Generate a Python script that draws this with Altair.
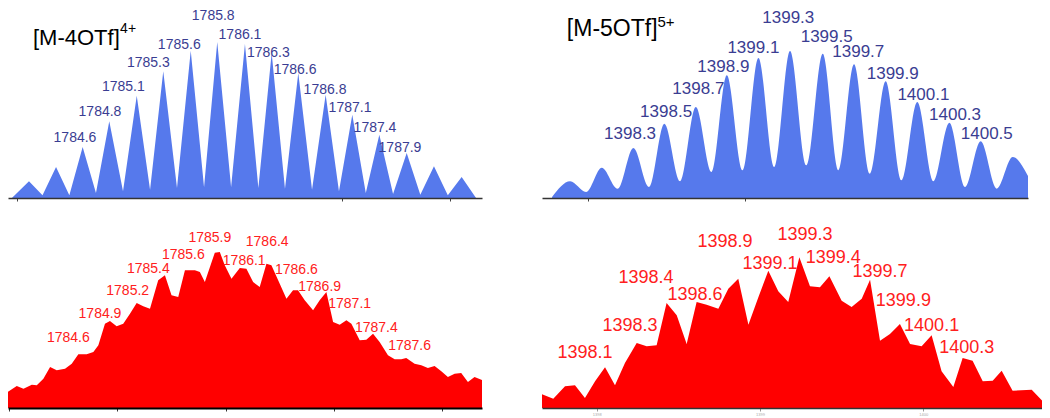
import altair as alt
import pandas as pd

FONT = "Liberation Sans"

# ---------------- top-left: calculated [M-4OTf]4+ ----------------
TL_MZ = [1783.95, 1784.108, 1784.233, 1784.358, 1784.481, 1784.604, 1784.727, 1784.85, 1784.977,
         1785.104, 1785.227, 1785.349, 1785.476, 1785.603, 1785.726, 1785.848, 1785.976, 1786.104,
         1786.228, 1786.351, 1786.474, 1786.597, 1786.724, 1786.85, 1786.973, 1787.096, 1787.221,
         1787.346, 1787.473, 1787.599, 1787.725, 1787.851, 1787.979, 1788.107, 1788.24]
TL_INT = [0, 16.7, 2.7, 31, 2.7, 51, 5, 76.7, 6.7, 102.3, 8.3, 126.7, 10, 147.3, 10.7, 156, 10.7,
          154, 10, 145, 9.3, 125, 8.3, 103.3, 6.7, 83.3, 5, 63.3, 4, 45, 3.3, 31.7, 2.7, 21, 0]
TL_LABELS = ["1784.6", "1784.8", "1785.1", "1785.3", "1785.6", "1785.8", "1786.1", "1786.3",
             "1786.6", "1786.8", "1787.1", "1787.4", "1787.9"]
TL_LAB_MZ = [1784.533, 1784.764, 1784.98, 1785.211, 1785.497, 1785.811, 1786.058, 1786.32,
             1786.567, 1786.844, 1787.075, 1787.306, 1787.537]
TL_LAB_INT = [60, 86, 110.7, 135, 152.7, 181.7, 163.4, 145, 128.4, 108.4, 90, 70, 50]
TL_TITLE = ["[M-4OTf]", "4+"]
TL_TITLE_MZ = [1784.145, 1784.95]
TL_TITLE_INT = [152.7, 164.7]

# ---------------- top-right: calculated [M-5OTf]5+ ----------------
TR_MZ = [1397.773, 1397.888, 1397.989, 1398.089, 1398.19, 1398.29, 1398.389, 1398.487, 1398.587,
         1398.687, 1398.786, 1398.884, 1398.985, 1399.085, 1399.186, 1399.286, 1399.39, 1399.494,
         1399.594, 1399.693, 1399.794, 1399.894, 1399.995, 1400.095, 1400.197, 1400.299, 1400.399,
         1400.498, 1400.6, 1400.702, 1400.799]
TR_INT = [1, 16.7, 6, 30.3, 9.3, 50, 11, 74.3, 16.7, 91, 26, 122.7, 27.7, 140, 31, 147, 32.7,
          144.3, 27.7, 133.7, 24.3, 116.7, 17.7, 96, 16.7, 75.3, 11, 56.7, 9.3, 41, 22]
TR_LABELS = ["1398.3", "1398.5", "1398.7", "1398.9", "1399.1", "1399.3", "1399.5", "1399.7",
             "1399.9", "1400.1", "1400.3", "1400.5"]
TR_LAB_MZ = [1398.269, 1398.498, 1398.703, 1398.862, 1399.053, 1399.275, 1399.519, 1399.72,
             1399.939, 1400.134, 1400.335, 1400.537]
TR_LAB_INT = [64.3, 86, 109.3, 131, 150, 180, 161, 146, 124.3, 102.6, 82.6, 64.3]
TR_TITLE = ["[M-5OTf]", "5+"]
TR_TITLE_MZ = [1397.867, 1398.443]
TR_TITLE_INT = [161.8, 171.3]

# ---------------- bottom-left: experimental 4+ ----------------
BL_MZ = [1783.985, 1784.071, 1784.133, 1784.21, 1784.256, 1784.317, 1784.379, 1784.44, 1784.517, 1784.579,
         1784.64, 1784.717, 1784.779, 1784.825, 1784.886, 1784.932, 1784.994, 1785.055, 1785.117, 1785.179,
         1785.24, 1785.302, 1785.378, 1785.44, 1785.501, 1785.563, 1785.625, 1785.717, 1785.763, 1785.809,
         1785.901, 1785.947, 1785.993, 1786.055, 1786.132, 1786.193, 1786.255, 1786.316, 1786.378, 1786.424,
         1786.501, 1786.563, 1786.624, 1786.67, 1786.732, 1786.809, 1786.87, 1786.932, 1786.994, 1787.055,
         1787.117, 1787.163, 1787.24, 1787.301, 1787.363, 1787.424, 1787.501, 1787.563, 1787.624, 1787.67,
         1787.747, 1787.809, 1787.87, 1787.932, 1787.994, 1788.055, 1788.117, 1788.178, 1788.24, 1788.301,
         1788.378]
BL_INT = [16, 22, 19.3, 23.3, 22.7, 29.3, 41, 37.7, 39.3, 44.3,
          53.7, 53.7, 56, 62.7, 84.3, 87, 81.7, 84.3, 94.3, 105,
          101.7, 99.3, 127.7, 132.7, 112.7, 111, 137.7, 137.7, 136, 126,
          155.3, 156, 142.7, 129.3, 140, 139.3, 126, 121, 144.3, 142.7,
          124.3, 109.3, 117.7, 117.7, 107.7, 97.7, 107.7, 116, 86, 83.3,
          87.7, 84.3, 67.7, 68.3, 74.3, 66, 52.7, 48.7, 48.7, 50,
          44.3, 42.7, 40, 42, 36.7, 31, 34.3, 35, 26, 31,
          27.7]
BL_LABELS = ["1784.6", "1784.9", "1785.2", "1785.4", "1785.6", "1785.9", "1786.1", "1786.4",
             "1786.6", "1786.9", "1787.1", "1787.4", "1787.6"]
BL_LAB_MZ = [1784.548, 1784.84, 1785.096, 1785.287, 1785.61, 1785.855, 1786.173, 1786.385,
             1786.655, 1786.87, 1787.147, 1787.394, 1787.701]
BL_LAB_INT = [70, 94, 117, 139, 153, 170, 147, 166, 138, 121, 104, 80, 62]

# ---------------- bottom-right: experimental 5+ ----------------
BR_MZ = [1397.663, 1397.734, 1397.806, 1397.867, 1397.928, 1397.99, 1398.051, 1398.112, 1398.173, 1398.245,
         1398.306, 1398.367, 1398.428, 1398.49, 1398.551, 1398.612, 1398.673, 1398.745, 1398.806, 1398.867,
         1398.929, 1398.99, 1399.051, 1399.112, 1399.173, 1399.241, 1399.306, 1399.367, 1399.425, 1399.5,
         1399.561, 1399.623, 1399.674, 1399.735, 1399.796, 1399.857, 1399.919, 1399.99, 1400.051, 1400.112,
         1400.184, 1400.241, 1400.302, 1400.364, 1400.425, 1400.48, 1400.547, 1400.664, 1400.735, 1400.772]
BR_INT = [14, 9.3, 21.7, 22.7, 10, 26.7, 40.7, 22.7, 45, 65,
          61.7, 62.7, 105, 92.7, 64, 106, 103.3, 99.3, 119.3, 129.3,
          83.3, 110.7, 137.3, 116.7, 106, 150.7, 121.7, 120.7, 131.7, 107.3,
          101, 109.3, 128.3, 67.3, 74, 84, 64, 61.7, 72.7, 36.7,
          21, 50, 47.3, 26.7, 27.3, 37.3, 17.3, 18.3, 6, 7.3]
BR_LABELS = ["1398.1", "1398.3", "1398.4", "1398.6", "1398.9", "1399.1", "1399.3", "1399.4",
             "1399.7", "1399.9", "1400.1", "1400.3"]
BR_LAB_MZ = [1397.928, 1398.204, 1398.302, 1398.602, 1398.786, 1399.061, 1399.276, 1399.449,
             1399.735, 1399.878, 1400.051, 1400.266]
BR_LAB_INT = [55, 81.7, 130, 113.4, 166, 144, 173.4, 150, 136, 107.4, 81.7, 60]

BLUE = "#5679ec"
BLUE_TEXT = "#3a3d92"
RED = "#ff0000"
RED_TEXT = "#ff2020"


def panel(mz, inten, xdom, width, height, fill, interp, axis,
          lab_text, lab_mz, lab_int, lab_color, lab_size, titles=None):
    x = alt.X("mz:Q", scale=alt.Scale(domain=xdom, nice=False, zero=False), axis=axis)
    y = alt.Y("h:Q", scale=alt.Scale(domain=[0, height], nice=False), axis=None)
    area = alt.Chart(pd.DataFrame({"mz": mz, "h": inten})).mark_area(
        color=fill, interpolate=interp, clip=True, opacity=1
    ).encode(x=x, y=y)
    labels = alt.Chart(pd.DataFrame({"mz": lab_mz, "h": lab_int, "t": lab_text})).mark_text(
        font=FONT, fontSize=lab_size, color=lab_color, align="center", baseline="middle"
    ).encode(x=x, y=y, text="t:N")
    layers = [area, labels]
    if titles is not None:
        t_text, t_mz, t_int, sizes = titles
        for i in range(len(t_text)):
            layers.append(
                alt.Chart(pd.DataFrame({"mz": [t_mz[i]], "h": [t_int[i]], "t": [t_text[i]]})).mark_text(
                    font=FONT, fontSize=sizes[i], color="#000000", align="left", baseline="alphabetic"
                ).encode(x=x, y=y, text="t:N")
            )
    return alt.layer(*layers).properties(width=width, height=height)


def make_axis(vals, dom_color, dom_width, tick_color, show_labels=False):
    kw = dict(values=vals, grid=False, title="", tickSize=3, tickWidth=1, tickColor=tick_color,
              domainColor=dom_color, domainWidth=dom_width, zindex=1, labels=show_labels)
    if show_labels:
        kw.update(labelFontSize=4, labelColor="#aaaaaa", labelPadding=1, format="d", labelFont=FONT)
    return alt.Axis(**kw)


tl = panel(TL_MZ, TL_INT, [1783.914, 1788.295], 474, 190, BLUE, "linear",
           make_axis([1784, 1787, 1788], "#333333", 1.5, "#444444"),
           TL_LABELS, TL_LAB_MZ, TL_LAB_INT, BLUE_TEXT, 14,
           (TL_TITLE, TL_TITLE_MZ, TL_TITLE_INT, [22, 14]))
tr = panel(TR_MZ, TR_INT, [1397.709, 1400.799], 486, 190, BLUE, "monotone",
           make_axis([1398, 1399], "#333333", 1.5, "#444444"),
           TR_LABELS, TR_LAB_MZ, TR_LAB_INT, BLUE_TEXT, 17,
           (TR_TITLE, TR_TITLE_MZ, TR_TITLE_INT, [23, 15]))
bl = panel(BL_MZ, BL_INT, [1783.99, 1788.37], 474, 200, RED, "linear",
           make_axis([1784, 1785, 1786, 1787, 1788], "#000000", 2, "#333333"),
           BL_LABELS, BL_LAB_MZ, BL_LAB_INT, RED_TEXT, 14)
br = panel(BR_MZ, BR_INT, [1397.665, 1400.727], 500, 200, RED, "linear",
           make_axis([1398, 1399, 1400], "#333333", 1.5, "#999999", show_labels=True),
           BR_LABELS, BR_LAB_MZ, BR_LAB_INT, RED_TEXT, 18)

chart = alt.concat(
    tl, tr, bl, br, columns=2, spacing={"row": 10, "column": 60}, bounds="flush"
).properties(padding=0).configure_view(strokeWidth=0)

chart.save("out.html", embed_options={"renderer": "svg", "actions": False})
